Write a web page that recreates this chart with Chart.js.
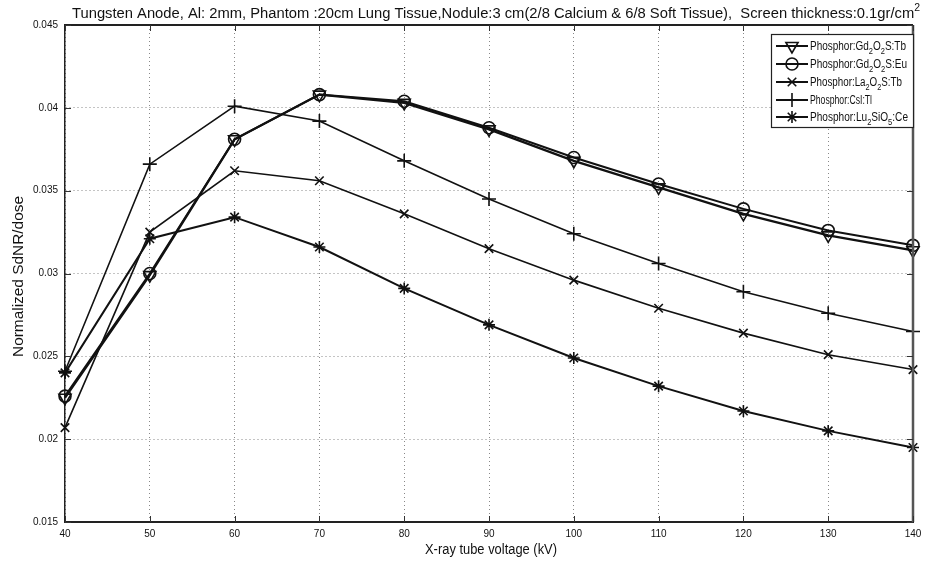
<!DOCTYPE html>
<html>
<head>
<meta charset="utf-8">
<script src="https://cdn.jsdelivr.net/npm/chart.js@4.4.1/dist/chart.umd.min.js"></script>
<style>
  html, body { margin: 0; padding: 0; background: #fff; }
  #wrap { width: 928px; height: 568px; }
</style>
</head>
<body>
<div id="wrap"><canvas id="chart" width="928" height="568"></canvas></div>
<script>
// x values (kV)
const voltages = [40, 50, 60, 70, 80, 90, 100, 110, 120, 130, 140];

// normalized SdNR/dose for each phosphor
const gdTb  = [0.0225, 0.0299, 0.0381, 0.0408, 0.0403, 0.0387, 0.0368, 0.0352, 0.0336, 0.0323, 0.0314];
const gdEu  = [0.0226, 0.0300, 0.0381, 0.0408, 0.0404, 0.0388, 0.0370, 0.0354, 0.0339, 0.0326, 0.0317];
const laTb  = [0.0207, 0.0325, 0.0362, 0.0356, 0.0336, 0.0315, 0.0296, 0.0279, 0.0264, 0.0251, 0.0242];
const csiTl = [0.0241, 0.0366, 0.0401, 0.0392, 0.0368, 0.0345, 0.0324, 0.0306, 0.0289, 0.0276, 0.0265];
const lsoCe = [0.0240, 0.0321, 0.0334, 0.0316, 0.0291, 0.0269, 0.0249, 0.0232, 0.0217, 0.0205, 0.0195];

// "_n" means subscript n, "^n" superscript n
const seriesNames = [
  "Phosphor:Gd_2O_2S:Tb",
  "Phosphor:Gd_2O_2S:Eu",
  "Phosphor:La_2O_2S:Tb",
  "Phosphor:CsI:Tl",
  "Phosphor:Lu_2SiO_5:Ce"
];

const titleText = "Tungsten Anode, Al: 2mm, Phantom :20cm Lung Tissue,Nodule:3 cm(2/8 Calcium & 6/8 Soft Tissue),  Screen thickness:0.1gr/cm^2";
const xTitle = "X-ray tube voltage (kV)";
const yTitle = "Normalized SdNR/dose";

const FONT = '"Liberation Sans Narrow", "Liberation Sans", Arial, sans-serif';

function pairs(ys){
    return voltages.map((v, i) => ({x: v, y: ys[i]}));
}

const seriesData = [gdTb, gdEu, laTb, csiTl, lsoCe];
const looks = [
    {style: "triangle", rot: 180, r: 7,   w: 2.2},
    {style: "circle",   rot: 0,   r: 6,   w: 2},
    {style: "crossRot", rot: 0,   r: 6,   w: 1.6},
    {style: "cross",    rot: 0,   r: 7,   w: 1.6},
    {style: "star",     rot: 0,   r: 6,   w: 2}
];

const datasets = seriesData.map((d, i) => ({
    label: seriesNames[i].replace(/_/g, ""),
    data: pairs(d),
    borderColor: "#111",
    backgroundColor: "rgba(0,0,0,0)",
    borderWidth: looks[i].w,
    pointStyle: looks[i].style,
    pointRotation: looks[i].rot,
    pointRadius: looks[i].r,
    pointBorderWidth: 1.6,
    pointBorderColor: "#111",
    pointBackgroundColor: "rgba(0,0,0,0)",
    tension: 0,
    clip: false
}));

// draw text where "_n" is subscript and "^n" is superscript
function richText(ctx, text, x, y, size){
    const parts = text.split(/([_^]\d)/);
    let cx = x;
    parts.forEach(p => {
        if(!p) return;
        if(p[0] === "_" || p[0] === "^"){
            ctx.font = Math.round(size * 0.72) + "px " + FONT;
            const dy = p[0] === "_" ? size * 0.3 : -size * 0.45;
            ctx.fillText(p[1], cx, y + dy);
            cx += ctx.measureText(p[1]).width;
        } else {
            ctx.font = size + "px " + FONT;
            ctx.fillText(p, cx, y);
            cx += ctx.measureText(p).width;
        }
    });
    return cx - x;
}

function richWidth(ctx, text, size){
    const parts = text.split(/([_^]\d)/);
    let w = 0;
    parts.forEach(p => {
        if(!p) return;
        if(p[0] === "_" || p[0] === "^"){
            ctx.font = Math.round(size * 0.72) + "px " + FONT;
            w += ctx.measureText(p[1]).width;
        } else {
            ctx.font = size + "px " + FONT;
            w += ctx.measureText(p).width;
        }
    });
    return w;
}

// squeeze text horizontally so it looks like the narrow original font
function fitText(ctx, text, left, baseline, size, width){
    const w = richWidth(ctx, text, size);
    ctx.save();
    ctx.translate(left, baseline);
    ctx.scale(width / w, 1);
    richText(ctx, text, 0, 0, size);
    ctx.restore();
}

const decorPlugin = {
    id: "decor",
    afterDraw(chart){
        const ctx = chart.ctx;
        const a = chart.chartArea;
        const xs = chart.scales.x;
        const ys = chart.scales.y;

        ctx.save();
        ctx.fillStyle = "#111";
        ctx.textBaseline = "alphabetic";
        ctx.textAlign = "left";

        // title
        fitText(ctx, titleText, 72, 18, 15.5, 848);

        // axis titles
        fitText(ctx, xTitle, 425, 554, 14, 132);
        ctx.save();
        ctx.translate(23, 357);
        ctx.rotate(-Math.PI / 2);
        fitText(ctx, yTitle, 0, 0, 15, 161);
        ctx.restore();

        // frame: top and right edges
        ctx.strokeStyle = "#222";
        ctx.lineWidth = 2;
        ctx.beginPath();
        ctx.moveTo(a.left, a.top);
        ctx.lineTo(a.right, a.top);
        ctx.stroke();
        ctx.strokeStyle = "#555";
        ctx.lineWidth = 2.5;
        ctx.beginPath();
        ctx.moveTo(a.right, a.top);
        ctx.lineTo(a.right, a.bottom);
        ctx.stroke();

        // inner tick marks
        ctx.strokeStyle = "#333";
        ctx.lineWidth = 1;
        ctx.beginPath();
        xs.ticks.forEach(t => {
            const px = Math.round(xs.getPixelForValue(t.value)) + 0.5;
            ctx.moveTo(px, a.bottom);
            ctx.lineTo(px, a.bottom - 6);
            ctx.moveTo(px, a.top);
            ctx.lineTo(px, a.top + 6);
        });
        ys.ticks.forEach(t => {
            const py = Math.round(ys.getPixelForValue(t.value)) + 0.5;
            ctx.moveTo(a.left, py);
            ctx.lineTo(a.left + 6, py);
            ctx.moveTo(a.right, py);
            ctx.lineTo(a.right - 6, py);
        });
        ctx.stroke();

        // legend
        const lx = 771, ly = 34, lw = 142, lh = 93;
        ctx.fillStyle = "#fff";
        ctx.fillRect(lx, ly, lw, lh);
        ctx.strokeStyle = "#222";
        ctx.lineWidth = 1.2;
        ctx.strokeRect(lx + 0.5, ly + 0.5, lw, lh);

        const rowY = [46, 64, 82, 100, 117];
        chart.data.datasets.forEach((ds, i) => {
            const y = rowY[i];
            ctx.strokeStyle = "#111";
            ctx.lineWidth = 2;
            ctx.beginPath();
            ctx.moveTo(lx + 5, y);
            ctx.lineTo(lx + 37, y);
            ctx.stroke();
            ctx.lineWidth = 1.6;
            ctx.fillStyle = "rgba(0,0,0,0)";
            Chart.helpers.drawPoint(ctx, {
                pointStyle: ds.pointStyle,
                rotation: ds.pointRotation,
                radius: ds.pointRadius,
                borderWidth: 1.6
            }, lx + 21, y);
            ctx.fillStyle = "#111";
            const nameW = [96, 97, 92, 62, 98][i];
            fitText(ctx, seriesNames[i], lx + 39, y + 4, 12, nameW);
        });

        ctx.restore();
    }
};

new Chart(document.getElementById("chart"), {
    type: "line",
    data: { datasets },
    options: {
        responsive: false,
        animation: false,
        devicePixelRatio: 1,
        layout: { padding: { top: 25, right: 15, left: 0, bottom: 0 } },
        plugins: {
            legend: { display: false },
            title: { display: false },
            tooltip: { enabled: false }
        },
        scales: {
            x: {
                type: "linear",
                min: 40,
                max: 140,
                ticks: {
                    stepSize: 10,
                    color: "#111",
                    padding: 6,
                    font: { family: FONT, size: 10 }
                },
                grid: { color: "#888", lineWidth: 1, drawTicks: false },
                border: { display: true, color: "#222", width: 2, dash: [1, 3] },
                afterFit(scale){ scale.height = 46; }
            },
            y: {
                type: "linear",
                min: 0.015,
                max: 0.045,
                ticks: {
                    stepSize: 0.005,
                    color: "#111",
                    padding: 7,
                    font: { family: FONT, size: 10 },
                    callback: v => String(Number(v.toFixed(3)))
                },
                grid: { color: "#888", lineWidth: 1, drawTicks: false },
                border: { display: true, color: "#222", width: 1.5, dash: [1, 3] },
                afterFit(scale){ scale.width = 65; }
            }
        }
    },
    plugins: [decorPlugin]
});
</script>
</body>
</html>
